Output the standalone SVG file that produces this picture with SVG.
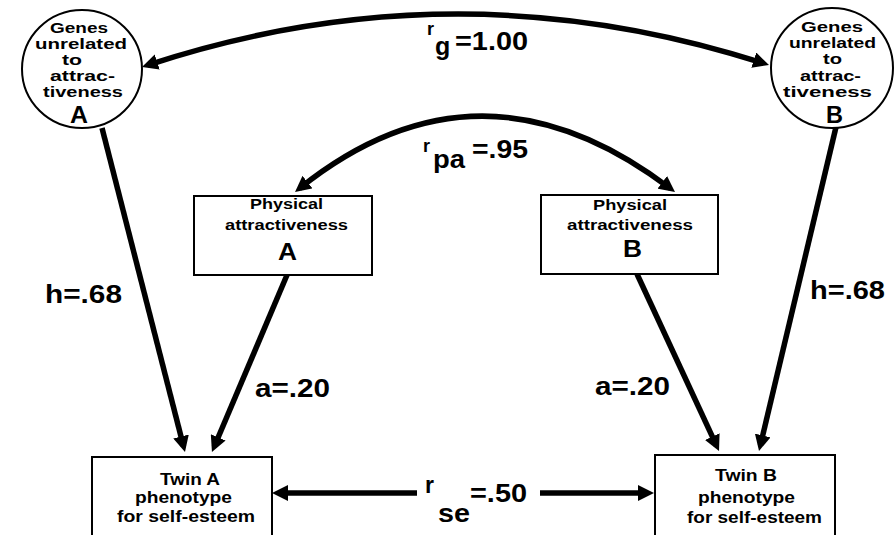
<svg xmlns="http://www.w3.org/2000/svg" width="896" height="535" viewBox="0 0 896 535">
<style>
.t{font-family:"Liberation Sans",Arial,sans-serif;font-weight:bold;fill:#000;}
.node{fill:#fff;stroke:#000;stroke-width:2;}
.c{fill:none;stroke:#000;stroke-width:5.5;}
.n15{font-size:15px;}
.n17{font-size:16px;}
.n14{font-size:14px;}
.big{font-size:23px;}
.lab{font-size:25px;}
.sup{font-size:18px;}
</style>
<defs>
<marker id="ah" viewBox="0 0 16 16" refX="10" refY="8" markerWidth="16" markerHeight="16" markerUnits="userSpaceOnUse" orient="auto-start-reverse">
<path d="M0,0 L16,8 L0,16 z" fill="#000"/>
</marker>
</defs>
<rect width="896" height="535" fill="#fff"/>

<g id="connectors">
<path class="c" d="M147.7,65.1 Q455,-36 763.3,63.2" marker-start="url(#ah)" marker-end="url(#ah)"/>
<path class="c" d="M299.7,188.3 Q480,44 670.2,188.4" marker-start="url(#ah)" marker-end="url(#ah)"/>
<line class="c" x1="102" y1="128" x2="183.5" y2="446.2" marker-end="url(#ah)"/>
<line class="c" x1="287" y1="275" x2="214.3" y2="446.5" marker-end="url(#ah)"/>
<line class="c" x1="637" y1="274" x2="716.5" y2="445.6" marker-end="url(#ah)"/>
<line class="c" x1="836" y1="127" x2="760.4" y2="445.2" marker-end="url(#ah)"/>
<line class="c" x1="417" y1="493" x2="278" y2="493" marker-end="url(#ah)"/>
<line class="c" x1="540" y1="493" x2="648" y2="493" marker-end="url(#ah)"/>
</g>

<g id="genesA">
<ellipse class="node" cx="82" cy="69" rx="60" ry="59"/>
<text class="t n15" x="50" y="33" textLength="58" lengthAdjust="spacingAndGlyphs">Genes</text>
<text class="t n15" x="35" y="49" textLength="92" lengthAdjust="spacingAndGlyphs">unrelated</text>
<text class="t n15" x="62" y="65" textLength="20" lengthAdjust="spacingAndGlyphs">to</text>
<text class="t n15" x="50" y="81" textLength="65" lengthAdjust="spacingAndGlyphs">attrac-</text>
<text class="t n15" x="43" y="97" textLength="80" lengthAdjust="spacingAndGlyphs">tiveness</text>
<text class="t big" x="70" y="123" textLength="18" lengthAdjust="spacingAndGlyphs">A</text>
</g>

<g id="genesB">
<ellipse class="node" cx="832" cy="68" rx="61" ry="60"/>
<text class="t n15" x="801" y="32" textLength="62" lengthAdjust="spacingAndGlyphs">Genes</text>
<text class="t n15" x="789" y="48" textLength="87" lengthAdjust="spacingAndGlyphs">unrelated</text>
<text class="t n15" x="823" y="64" textLength="19" lengthAdjust="spacingAndGlyphs">to</text>
<text class="t n15" x="800" y="81" textLength="61" lengthAdjust="spacingAndGlyphs">attrac-</text>
<text class="t n15" x="783" y="97" textLength="89" lengthAdjust="spacingAndGlyphs">tiveness</text>
<text class="t big" x="826" y="123" textLength="17" lengthAdjust="spacingAndGlyphs">B</text>
</g>

<g id="physA">
<rect class="node" x="194" y="196" width="178" height="79"/>
<text class="t n14" x="250" y="209" textLength="73" lengthAdjust="spacingAndGlyphs">Physical</text>
<text class="t n14" x="225" y="230" textLength="123" lengthAdjust="spacingAndGlyphs">attractiveness</text>
<text class="t big" x="278" y="260" textLength="19" lengthAdjust="spacingAndGlyphs">A</text>
</g>

<g id="physB">
<rect class="node" x="541" y="195" width="177" height="79"/>
<text class="t n14" x="593" y="210" textLength="74" lengthAdjust="spacingAndGlyphs">Physical</text>
<text class="t n14" x="567" y="230" textLength="126" lengthAdjust="spacingAndGlyphs">attractiveness</text>
<text class="t big" x="623" y="257" textLength="19" lengthAdjust="spacingAndGlyphs">B</text>
</g>

<g id="twinA">
<rect class="node" x="92" y="457" width="180" height="95"/>
<text class="t n17" x="160" y="485" textLength="60" lengthAdjust="spacingAndGlyphs">Twin A</text>
<text class="t n17" x="135" y="503" textLength="97" lengthAdjust="spacingAndGlyphs">phenotype</text>
<text class="t n17" x="117" y="522" textLength="138" lengthAdjust="spacingAndGlyphs">for self-esteem</text>
</g>

<g id="twinB">
<rect class="node" x="655" y="455" width="180" height="95"/>
<text class="t n17" x="715" y="481" textLength="62" lengthAdjust="spacingAndGlyphs">Twin B</text>
<text class="t n17" x="698" y="503" textLength="97" lengthAdjust="spacingAndGlyphs">phenotype</text>
<text class="t n17" x="687" y="523" textLength="135" lengthAdjust="spacingAndGlyphs">for self-esteem</text>
</g>

<g id="labels">
<text class="t sup" x="427" y="35">r</text>
<text class="t lab" x="435" y="55">g</text>
<text class="t lab" x="455" y="50" textLength="73" lengthAdjust="spacingAndGlyphs">=1.00</text>
<text class="t sup" x="423" y="152">r</text>
<text class="t lab" x="433" y="168" textLength="32" lengthAdjust="spacingAndGlyphs">pa</text>
<text class="t lab" x="472" y="158" textLength="56" lengthAdjust="spacingAndGlyphs">=.95</text>
<text class="t" style="font-size:23px" x="425" y="493">r</text>
<text class="t lab" x="438" y="522" textLength="32" lengthAdjust="spacingAndGlyphs">se</text>
<text class="t lab" x="470" y="502" textLength="57" lengthAdjust="spacingAndGlyphs">=.50</text>
<text class="t lab" x="45" y="303" textLength="77" lengthAdjust="spacingAndGlyphs">h=.68</text>
<text class="t lab" x="255" y="397" textLength="75" lengthAdjust="spacingAndGlyphs">a=.20</text>
<text class="t lab" x="810" y="299" textLength="75" lengthAdjust="spacingAndGlyphs">h=.68</text>
<text class="t lab" x="595" y="395" textLength="75" lengthAdjust="spacingAndGlyphs">a=.20</text>
</g>
</svg>
